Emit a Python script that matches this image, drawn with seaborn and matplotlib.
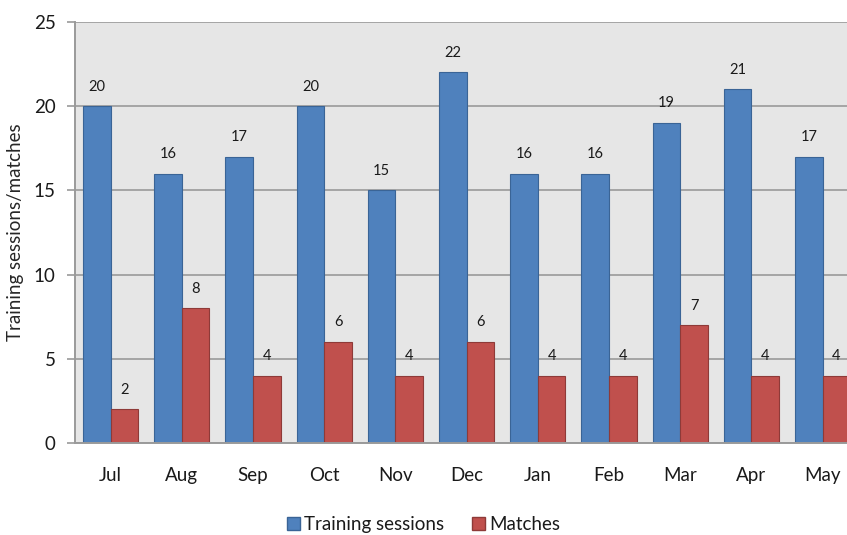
import numpy as np
import pandas as pd
import matplotlib
matplotlib.use("Agg")
import matplotlib.pyplot as plt
from matplotlib.patches import Patch
import seaborn as sns

# values
months = ["Jul", "Aug", "Sep", "Oct", "Nov", "Dec", "Jan", "Feb", "Mar", "Apr", "May"]
training = [20, 16, 17, 20, 15, 22, 16, 16, 19, 21, 17]
matches = [2, 8, 4, 6, 4, 6, 4, 4, 7, 4, 4]
series = ["Training sessions", "Matches"]

colors = ["#4f81bd", "#c0504d"]
edges = ["#3a6496", "#8e3a38"]

sns.set_style("white")
plt.rcParams['font.family'] = ['Lato', 'DejaVu Sans']
plt.rcParams['text.color'] = "#1a1a1a"
plt.rcParams['xtick.labelcolor'] = "#1a1a1a"
plt.rcParams['ytick.labelcolor'] = "#1a1a1a"

df = pd.DataFrame({
    "month": months * 2,
    "value": training + matches,
    "series": [series[0]] * len(months) + [series[1]] * len(months),
})

fig = plt.figure(figsize=(8.47, 5.35), dpi=100)
ax = fig.add_axes([0.0886, 0.172, 1 - 0.0886, 0.959 - 0.172])
ax.set_facecolor("#e6e6e6")

sns.barplot(data=df, x="month", y="value", hue="series", hue_order=series,
            palette=colors, width=0.775, saturation=1, legend=False, ax=ax)

for cont, ec in zip(ax.containers, edges):
    for b in cont:
        b.set_edgecolor(ec)
        b.set_linewidth(0.8)
    ax.bar_label(cont, padding=9, fontsize=10.5, color="#1a1a1a")

ax.set_ylim(0, 25)
ax.set_yticks(range(0, 26, 5))
ax.set_xlim(-0.5, (847 - 75) / 71.2 - 0.5)
ax.yaxis.grid(True, color="#9a9a9a", linewidth=1.2)
ax.set_axisbelow(True)

# x ticks sit between the groups
ax.set_xticks(np.arange(len(months)) - 0.5, minor=True)
ax.tick_params(axis="x", which="minor", length=6, width=1.2, color="#9a9a9a", direction="out")
ax.tick_params(axis="x", which="major", length=0, labelsize=13.5, pad=17)
ax.tick_params(axis="y", length=6, width=1.2, color="#9a9a9a", labelsize=13.5, pad=8, left=True)

for s in ["top", "right"]:
    ax.spines[s].set_visible(False)
for s in ["left", "bottom"]:
    ax.spines[s].set_color("#9a9a9a")
    ax.spines[s].set_linewidth(1.4)

ax.set_xlabel("")
ax.set_ylabel("Training sessions/matches", fontsize=13.5, labelpad=7)

handles = [Patch(facecolor=c, edgecolor=e, label=l) for c, e, l in zip(colors, edges, series)]
fig.legend(handles=handles, loc="lower center", bbox_to_anchor=(0.5, -0.028), ncol=2,
           frameon=False, fontsize=13.5, handlelength=0.7, handleheight=0.7,
           handletextpad=0.2, columnspacing=1.5)

fig.savefig("out.png", dpi=100)
